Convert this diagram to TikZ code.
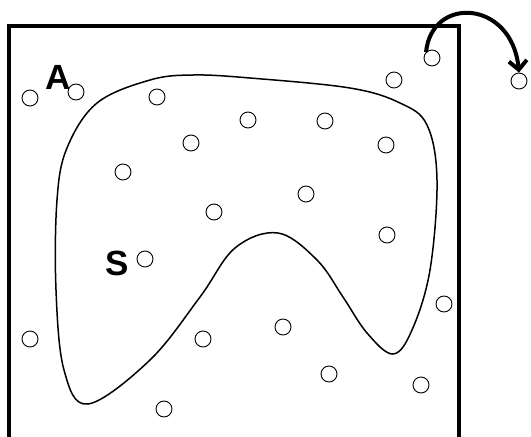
\documentclass[tikz,border=0pt]{standalone}
\usepackage{fontspec}
\setsansfont{Liberation Sans}
\usetikzlibrary{arrows.meta}

\begin{document}
\begin{tikzpicture}[
  x=1pt,y=-1pt,
  pebble/.style={draw,circle,line width=0.9pt,minimum size=16pt,inner sep=0pt},
  setlabel/.style={font=\sffamily\bfseries\fontsize{35}{35}\selectfont,inner sep=0pt},
  frame/.style={line width=3.5pt},
  region/.style={line width=1.5pt},
  jump/.style={line width=4pt,-{Straight Barb[length=9pt,width=18pt,line width=4pt]}}
]
\useasboundingbox (0,0) rectangle (531,437);

% --- outer box A (open at the bottom) ---
\draw[frame] (9,437) -- (9,26) -- (459,26) -- (459,437);

% --- region S ---
\draw[region] plot[smooth cycle,tension=0.6] coordinates {
  (97,103) (150,80) (193,75) (250,78) (350,88) (400,103) (427,125)
  (437,180) (430,270) (412,330) (393,354) (367,333) (343,297) (317,260)
  (278,233) (235,248) (200,297) (150,360) (88,404) (64,370) (56,290)
  (57,200) (67,148)};

% --- points ---
\node[pebble] (p1)  at (30,98)   {};
\node[pebble] (p2)  at (76,92)   {};
\node[pebble] (p3)  at (157,97)  {};
\node[pebble] (p4)  at (432,58)  {};
\node[pebble] (p5)  at (394,80)  {};
\node[pebble] (p6)  at (519,81)  {};
\node[pebble] (p7)  at (248,120) {};
\node[pebble] (p8)  at (325,121) {};
\node[pebble] (p9)  at (191,143) {};
\node[pebble] (p10) at (386,145) {};
\node[pebble] (p11) at (123,172) {};
\node[pebble] (p12) at (306,194) {};
\node[pebble] (p13) at (214,212) {};
\node[pebble] (p14) at (387,235) {};
\node[pebble] (p15) at (145,259) {};
\node[pebble] (p16) at (444,304) {};
\node[pebble] (p17) at (30,339)  {};
\node[pebble] (p18) at (203,339) {};
\node[pebble] (p19) at (283,327) {};
\node[pebble] (p20) at (329,374) {};
\node[pebble] (p21) at (421,385) {};
\node[pebble] (p22) at (164,409) {};

% --- labels ---
\node[setlabel] (lA) at (58,77)  {A};
\node[setlabel] (lS) at (117,263) {S};

% --- the point that leaves A ---
\draw[jump] (p4.north west) .. controls (432,-5) and (512,0) .. (p6.north);
\end{tikzpicture}
\end{document}
